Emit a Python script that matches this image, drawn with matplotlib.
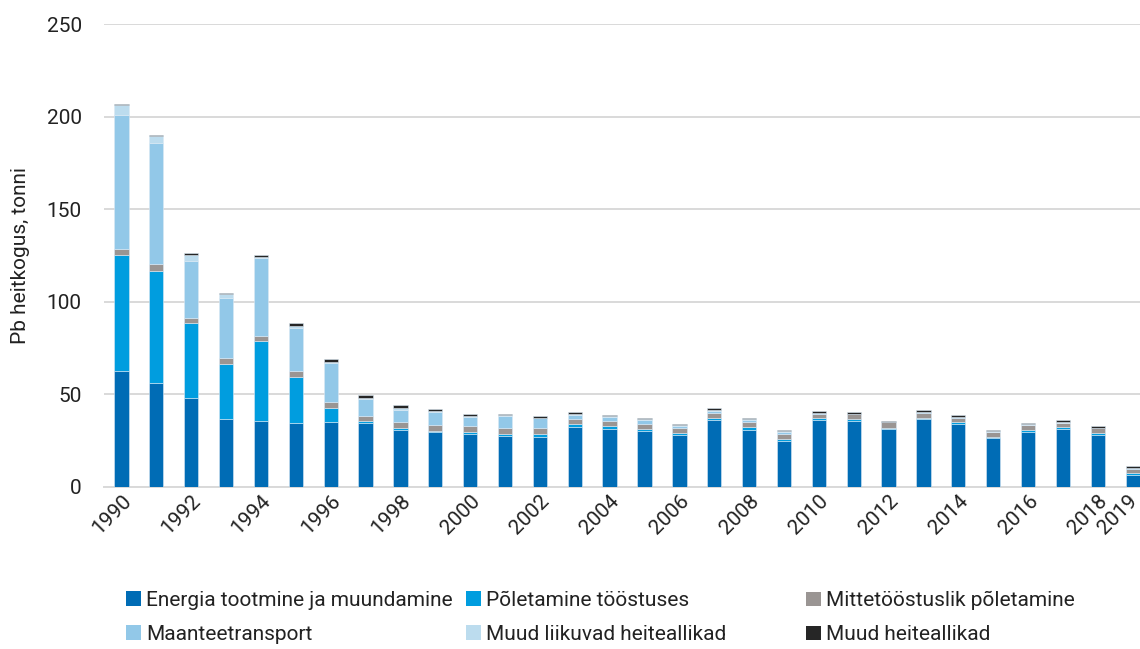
import matplotlib
matplotlib.use("Agg")
import numpy as np
from matplotlib import pyplot as plt
from matplotlib.patches import Patch
from matplotlib.transforms import ScaledTranslation

plt.rcParams["font.family"] = ["Roboto", "DejaVu Sans"]

years = list(range(1990, 2020))

# Pb emissions by source, tonnes
energia = [62.7, 55.9, 47.9, 36.8, 35.9, 34.4, 35.0, 34.4, 30.9, 29.9,
           28.8, 27.5, 27.2, 32.6, 31.5, 30.2, 27.9, 36.3, 30.9, 24.8,
           36.0, 35.8, 31.5, 36.7, 33.8, 26.3, 29.9, 31.5, 28.2, 6.7]
toostus = [62.7, 61.0, 40.7, 29.7, 42.7, 25.2, 7.9, 1.0, 0.9, 0.5,
           1.1, 1.3, 1.6, 1.2, 1.2, 1.3, 1.1, 1.1, 1.3, 0.9,
           1.1, 0.7, 0.5, 0.7, 1.1, 0.7, 0.7, 0.7, 0.9, 0.7]
mittetoostus = [2.9, 3.3, 2.9, 2.9, 2.7, 3.1, 3.2, 3.1, 3.1, 3.2,
                2.8, 3.2, 3.0, 3.1, 2.9, 2.7, 2.8, 2.5, 2.7, 2.7,
                2.3, 2.7, 2.9, 2.7, 2.5, 2.5, 2.7, 2.3, 2.7, 2.5]
maantee = [72.8, 65.8, 30.7, 32.9, 42.1, 23.4, 20.6, 8.8, 6.6, 6.7,
           5.1, 6.1, 5.3, 1.9, 2.2, 1.8, 1.1, 1.3, 1.1, 1.3,
           0.3, 0.2, 0.1, 0.2, 0.3, 0.3, 0.3, 0.2, 0.1, 0.3]
liikuvad = [5.0, 3.5, 3.2, 1.8, 0.7, 0.9, 0.9, 0.9, 1.3, 0.7,
            0.5, 0.6, 0.3, 0.6, 0.5, 0.5, 0.4, 0.5, 0.7, 0.3,
            0.3, 0.2, 0.1, 0.2, 0.3, 0.2, 0.2, 0.2, 0.1, 0.2]
muud = [0.7, 0.8, 0.9, 0.8, 0.9, 1.5, 1.4, 1.4, 1.4, 1.3,
        1.1, 0.7, 1.1, 1.2, 0.7, 0.7, 0.9, 0.7, 0.5, 0.8,
        0.8, 0.9, 0.7, 0.9, 0.7, 0.8, 0.7, 1.3, 0.9, 0.9]

series = [
    ("Energia tootmine ja muundamine", energia, "#006cb5"),
    ("Põletamine tööstuses", toostus, "#009ddf"),
    ("Mittetööstuslik põletamine", mittetoostus, "#9a9593"),
    ("Maanteetransport", maantee, "#92c8e8"),
    ("Muud liikuvad heiteallikad", liikuvad, "#bcdcee"),
    ("Muud heiteallikad", muud, "#262626"),
]

tick_years = list(range(1990, 2019, 2)) + [2019]

fig = plt.figure(figsize=(11.4, 6.49), dpi=100)
left = 104 / 1140
ax = fig.add_axes([left, 1 - 487 / 649, 1 - left, (487 - 24) / 649])

x = np.arange(len(years))
bottom = np.zeros(len(years))
for name, vals, color in series:
    ax.bar(x, vals, width=0.41, bottom=bottom, color=color,
           edgecolor="#dbe9f4", linewidth=0.4, zorder=3)
    bottom += np.array(vals)

ax.set_ylim(0, 250)
ax.set_yticks(range(0, 251, 50))
ax.set_xlim(-0.5, (1140 - 104) / 34.87 - 0.5)
ax.yaxis.grid(True, color="#d9d9d9", linewidth=1.4, zorder=0)
ax.set_axisbelow(True)
for s in ["top", "right", "left"]:
    ax.spines[s].set_visible(False)
ax.spines["bottom"].set_color("#d9d9d9")
ax.spines["bottom"].set_linewidth(1.4)

ax.set_xticks([y - 1990 for y in tick_years])
ax.set_xticklabels([str(y) for y in tick_years], rotation=45, ha="right",
                   va="top", rotation_mode="anchor")
ax.tick_params(axis="both", length=0, labelsize=15, colors="#222222")
ax.tick_params(axis="y", pad=16)
ax.tick_params(axis="x", pad=3)
ax.set_ylabel("Pb heitkogus, tonni", fontsize=15, color="#222222", labelpad=12)

# pull the last year label in a little so it stays inside the figure
last = ax.get_xticklabels()[-1]
last.set_transform(last.get_transform()
                   + ScaledTranslation(-5 / 100, 0, fig.dpi_scale_trans))

# legend: three columns of two entries each
handles = [Patch(facecolor=c, edgecolor="none") for _, _, c in series]
labels = [n for n, _, _ in series]
for col, xpos in enumerate([126 / 1140, 466 / 1140, 806 / 1140]):
    idx = [col, col + 3]
    fig.legend([handles[i] for i in idx], [labels[i] for i in idx],
               loc="upper left", bbox_to_anchor=(xpos, 1 - 591 / 649),
               frameon=False, fontsize=15, handlelength=0.7,
               handleheight=0.7, handletextpad=0.25, labelspacing=0.72,
               labelcolor="#222222", borderaxespad=0, borderpad=0)

fig.savefig("out.png", dpi=100)
